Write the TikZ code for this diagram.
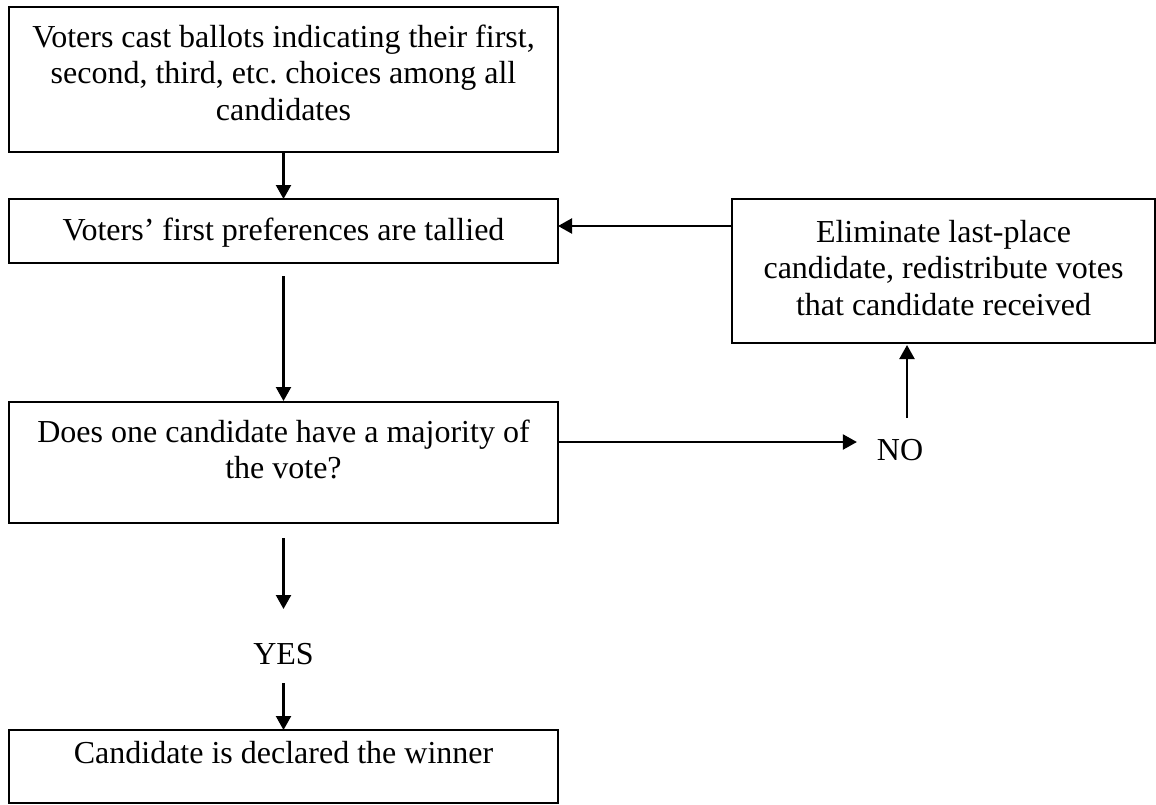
\documentclass[tikz,border=0pt]{standalone}
\usepackage{fontspec}
\setmainfont{Liberation Serif}
\usetikzlibrary{arrows.meta}
\begin{document}
\begin{tikzpicture}[x=1pt,y=-1pt,
  box/.style={draw=black, line width=2pt, inner sep=0pt, outer sep=0pt},
  txt/.style={align=center, inner sep=0pt, outer sep=0pt, anchor=north, font=\fontsize{32pt}{36.5pt}\selectfont},
  arr/.style={-{Triangle[length=14pt,width=15pt]}, line width=2.2pt}]
\useasboundingbox (0,0) rectangle (1156,804);
% boxes
\node[box, minimum width=549pt, minimum height=145pt] (b1) at (283.5,79.5) {};
\node[box, minimum width=549pt, minimum height=64pt]  (b2) at (283.5,231) {};
\node[box, minimum width=549pt, minimum height=121pt] (b3) at (283.5,462.5) {};
\node[box, minimum width=549pt, minimum height=73pt]  (b4) at (283.5,766.5) {};
\node[box, minimum width=423pt, minimum height=144pt] (b5) at (943.5,271) {};
% texts
\node[txt] (t1) at (283.5,21.45) {\strut Voters cast ballots indicating their first,\\\strut second, third, etc.\ choices among all\\\strut candidates};
\node[txt] (t2) at (283.5,214.45) {\strut Voters’ first preferences are tallied};
\node[txt] (t5) at (943.5,216.45) {\strut Eliminate last-place\\\strut candidate, redistribute votes\\\strut that candidate received};
\node[txt] (t3) at (283.5,416.45) {\strut Does one candidate have a majority of\\\strut the vote?};
\node[txt] (t4) at (283.5,737.45) {\strut Candidate is declared the winner};
\node[txt] (yes) at (283.5,638.45) {\strut YES};
\node[txt] (no) at (900,434.45) {\strut NO};
% connectors
\draw[arr] (b1.south) -- (b2.north);
\draw[arr] ([yshift=-13pt]b2.south) -- ([yshift=1pt]b3.north);
\draw[arr] ([yshift=-15pt]b3.south) -- ([yshift=29.45pt]yes.north);
\draw[arr] ([yshift=-8.05pt]yes.south) -- (b4.north);
\coordinate (p5) at ([yshift=-40pt]b3.north east);
\draw[arr] (p5) -- ([xshift=-20pt]no.west |- p5);
\coordinate (p6) at ([xshift=7pt,yshift=16.45pt]no.north);
\draw[arr, shorten >=2pt] (p6) -- (b5.south -| p6);
\coordinate (p7) at ([yshift=-27pt]b5.north west);
\draw[arr] (p7) -- (b2.east |- p7);
\end{tikzpicture}
\end{document}
